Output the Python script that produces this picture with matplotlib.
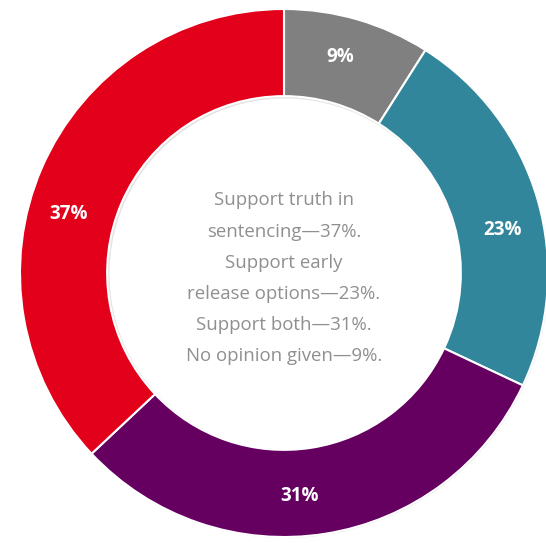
import numpy as np
import matplotlib.pyplot as plt
from matplotlib.patches import Wedge

# slices clockwise from 12 o'clock
labels = ["No opinion given", "Support early release options", "Support both", "Support truth in sentencing"]
shares = [9, 23, 31, 37]
colors = ["#808080", "#31869b", "#650061", "#e2001a"]
center_text = ("Support truth in\nsentencing\u201437%.\nSupport early\n"
               "release options\u201423%.\nSupport both\u201431%.\nNo opinion given\u20149%.")
# nudge of each value label along the ring (degrees, + = counter-clockwise)
label_shift_deg = [1.5, -5, -5, 8]

W, H = 546, 543
cx, cy, R = 284, 273, 264  # pixel layout of the ring

fig = plt.figure(figsize=(W / 100, H / 100), dpi=100)
ax = fig.add_axes([0, 0, 1, 1])
ax.set_axis_off()

# faint shadow around the ring
ax.add_patch(Wedge((0.004, -0.004), 1.0, 0, 360, width=0.335, facecolor="#e4e4e4", edgecolor="none", zorder=0))

wedges, _ = ax.pie(shares, colors=colors, startangle=90, counterclock=False, radius=1.0,
                   wedgeprops=dict(width=0.33, edgecolor="white", linewidth=1.5))
for w, s, d in zip(wedges, shares, label_shift_deg):
    ang = np.deg2rad((w.theta1 + w.theta2) / 2 + d)
    ax.text(0.845 * np.cos(ang), 0.845 * np.sin(ang), f"{s}%", ha="center", va="center",
            color="white", fontsize=13.5, fontweight="bold", family="Open Sans")

ax.set_xlim(-cx / R, (W - cx) / R)
ax.set_ylim(-(H - cy) / R, cy / R)
ax.set_aspect("auto")

ax.text(0, -0.02, center_text, ha="center", va="center", color="#8f8f8f",
        fontsize=13.4, family="Open Sans", linespacing=1.94)

fig.savefig("out.png", dpi=100)
